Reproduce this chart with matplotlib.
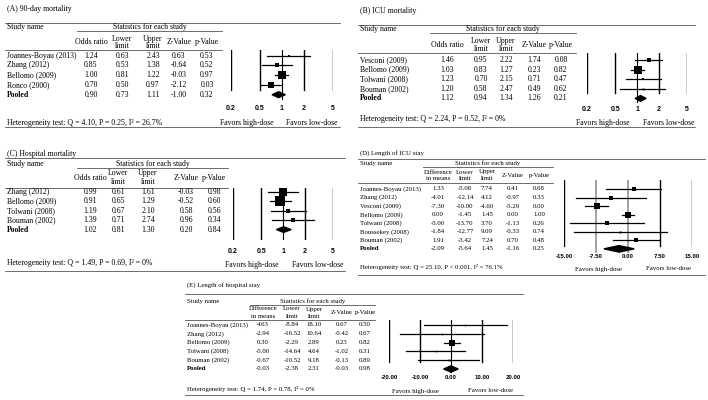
import matplotlib
matplotlib.use('Agg')
import matplotlib.pyplot as plt
import numpy as np

plt.rcParams['font.family'] = ['Liberation Serif', 'DejaVu Serif']

W, H = 708, 400

#######################################################
# Data
#######################################################
studies_a = ['Joannes-Boyau (2013)', 'Zhang (2012)', 'Bellomo (2009)', 'Ronco (2000)', 'Pooled']
est_a = [1.24, 0.85, 1.00, 0.70, 0.90]
lo_a = [0.63, 0.53, 0.81, 0.50, 0.73]
hi_a = [2.43, 1.38, 1.22, 0.97, 1.11]
z_a = [0.63, -0.64, -0.03, -2.12, -1.00]
p_a = [0.53, 0.52, 0.97, 0.03, 0.32]
wt_a = [10, 18, 45, 27]
het_a = 'Heterogeneity test: Q = 4.10, P = 0.25, I\u00b2 = 26.7%'

studies_b = ['Vesconi (2009)', 'Bellomo (2009)', 'Tolwani (2008)', 'Bouman (2002)', 'Pooled']
est_b = [1.46, 1.03, 1.23, 1.20, 1.12]
lo_b = [0.95, 0.83, 0.70, 0.58, 0.94]
hi_b = [2.22, 1.27, 2.15, 2.47, 1.34]
z_b = [1.74, 0.23, 0.71, 0.49, 1.26]
p_b = [0.08, 0.82, 0.47, 0.62, 0.21]
wt_b = [17, 45, 7, 3]
het_b = 'Heterogeneity test: Q = 2.24, P = 0.52, I\u00b2 = 0%'

studies_c = ['Zhang (2012)', 'Bellomo (2009)', 'Tolwani (2008)', 'Bouman (2002)', 'Pooled']
est_c = [0.99, 0.91, 1.19, 1.39, 1.02]
lo_c = [0.61, 0.65, 0.67, 0.71, 0.81]
hi_c = [1.61, 1.29, 2.10, 2.74, 1.30]
z_c = [-0.03, -0.52, 0.58, 0.96, 0.20]
p_c = [0.98, 0.60, 0.56, 0.34, 0.84]
wt_c = [39, 52, 23, 12]
het_c = 'Heterogeneity test: Q = 1.49, P = 0.69, I\u00b2 = 0%'

studies_d = ['Joannes-Boyau (2013)', 'Zhang (2012)', 'Vesconi (2009)', 'Bellomo (2009)',
             'Tolwani (2008)', 'Boussekey (2008)', 'Bouman (2002)', 'Pooled']
est_d = [1.33, -4.01, -7.30, 0.00, -5.00, -1.84, 1.91, -2.09]
lo_d = [-5.08, -12.14, -10.00, -1.45, -13.70, -12.77, -3.42, -5.64]
hi_d = [7.74, 4.12, -4.60, 1.45, 3.70, 9.09, 7.24, 1.45]
z_d = [0.41, -0.97, -5.29, 0.00, -1.13, -0.33, 0.70, -1.16]
p_d = [0.68, 0.33, 0.00, 1.00, 0.26, 0.74, 0.48, 0.25]
wt_d = [12, 12, 34, 28, 12, 3, 15]
het_d = 'Heterogeneity test: Q = 25.10, P < 0.001, I\u00b2 = 76.1%'

studies_e = ['Joannes-Boyau (2013)', 'Zhang (2012)', 'Bellomo (2009)', 'Tolwani (2008)',
             'Bouman (2002)', 'Pooled']
est_e = [4.63, -2.94, 0.30, -5.00, -0.67, -0.03]
lo_e = [-8.84, -16.52, -2.29, -14.64, -10.52, -2.38]
hi_e = [18.10, 10.64, 2.89, 4.64, 9.18, 2.31]
z_e = [0.67, -0.42, 0.23, -1.02, -0.13, -0.03]
p_e = [0.50, 0.67, 0.82, 0.31, 0.89, 0.98]
wt_e = [1, 1, 35, 1, 2]
het_e = 'Heterogeneity test: Q = 1.74, P = 0.78, I\u00b2 = 0%'

ticks_ratio = [0.2, 0.5, 1, 2, 5]
ticklab_ratio = ['0.2', '0.5', '1', '2', '5']
ticks_d = [-15, -7.5, 0, 7.5, 15]
ticklab_d = ['-15.00', '-7.50', '0.00', '7.50', '15.00']
ticks_e = [-20, -10, 0, 10, 20]
ticklab_e = ['-20.00', '-10.00', '0.00', '10.00', '20.00']

LINE = '#555555'


#######################################################
# Drawing
#######################################################
def draw_panel(fig, ov, title, studies, est, lo, hi, z, p, wt, het, L):
    x0 = L['x0']
    fs = L['fs']
    ov.text(x0 + 2, L['y_title'], title, fontsize=fs, va='center')
    ov.plot([x0, L['x1']], [L['y_top'], L['y_top']], color=LINE, lw=0.6)
    ov.text(x0 + 2, L['y_stat'], 'Study name', fontsize=fs, va='center')
    sx0, sx1 = L['stat']
    ov.text((sx0 + sx1) / 2, L['y_stat'], 'Statistics for each study', fontsize=fs,
            va='center', ha='center')
    ov.plot([sx0, sx1], [L['y_stat'] + 3.8, L['y_stat'] + 3.8], color=LINE, lw=0.6)
    ov.plot([x0, sx1], [L['y_hline'], L['y_hline']], color=LINE, lw=0.6)
    ym = (L['y_h1'] + L['y_h2']) / 2
    heads = [L['first'], ('Lower', 'limit'), ('Upper', 'limit'), 'Z-Value', 'p-Value']
    for cx, hd in zip(L['cols'], heads):
        if isinstance(hd, tuple):
            ov.text(cx, L['y_h1'], hd[0], fontsize=fs, ha='center', va='center')
            ov.text(cx, L['y_h2'], hd[1], fontsize=fs, ha='center', va='center')
        else:
            ov.text(cx, ym, hd, fontsize=fs, ha='center', va='center')

    n = len(studies)
    for i in range(n):
        y = L['row0'] + i * L['dy']
        bold = 'bold' if studies[i] == 'Pooled' else 'normal'
        ov.text(x0 + 2, y, studies[i], fontsize=fs, va='center', fontweight=bold)
        for cx, v in zip(L['cols'], [est[i], lo[i], hi[i], z[i], p[i]]):
            ov.text(cx, y, '%.2f' % v, fontsize=fs, ha='center', va='center')

    ov.text(x0 + 2, L['y_het'], het, fontsize=fs, va='center')
    ov.plot([x0, L['x1']], [L['y_bot'], L['y_bot']], color=LINE, lw=0.6)
    for fx, lab in zip(L['fav'], ['Favors high-dose', 'Favors low-dose']):
        ov.text(fx, L['y_fav'], lab, fontsize=fs, ha='center', va='center')

    # forest plot axes
    fx0, fx1, fy0, fy1 = L['forest']
    ax = fig.add_axes([fx0 / W, 1 - fy1 / H, (fx1 - fx0) / W, (fy1 - fy0) / H])
    if L['log']:
        ax.set_xscale('log')
    ticks = L['ticks']
    ax.set_xlim(ticks[0], ticks[-1])
    ax.set_ylim((fy1 - L['row0']) / L['dy'], (fy0 - L['row0']) / L['dy'])
    for t in ticks:
        if t == L['ref']:
            ax.axvline(t, color='black', lw=0.8, zorder=1)
        elif t in L.get('gray_at', []):
            ax.axvline(t, color='#8a8a8a', lw=1.1, zorder=1)
        else:
            ax.axvline(t, color='black', lw=1.0, ymin=L['vmin'], zorder=1)
    for i in range(n - 1):
        ax.plot([lo[i], hi[i]], [i, i], color='black', lw=0.9, zorder=2)
        side = 1.5 + 0.15 * wt[i]
        ax.plot(est[i], i, marker='s', ms=side / 1.389, color='black', mew=0, zorder=3)
    k = n - 1
    hd = L['dh']
    ax.fill([lo[k], est[k], hi[k], est[k]], [k, k - hd, k, k + hd], color='black', zorder=3)
    ax.set_xticks(ticks)
    ax.set_xticklabels(L['ticklab'], family='Liberation Sans', fontweight='bold', fontsize=L['tfs'])
    ax.minorticks_off()
    ax.tick_params(axis='x', length=0, pad=(L['y_tick'] - fy1 - 3) * 0.72)
    ax.set_yticks([])
    for s in ax.spines.values():
        s.set_visible(False)
    ax.patch.set_alpha(0)


fig = plt.figure(figsize=(W / 100, H / 100), dpi=100)
ov = fig.add_axes([0, 0, 1, 1])
ov.set_xlim(0, W)
ov.set_ylim(H, 0)
ov.axis('off')

lay_a = dict(fs=5.6, tfs=5.0, x0=5, x1=340, y_title=9, y_top=23, y_stat=27, stat=(77, 222),
             y_hline=50, y_h1=39, y_h2=46, first='Odds ratio', cols=[91, 122, 153, 179, 207],
             row0=55.5, dy=9.8, forest=(231, 333, 50, 100), log=True, ticks=ticks_ratio,
             ticklab=ticklab_ratio, ref=1, vmin=0.2, dh=0.3, y_tick=108, fav=(247, 312),
             y_fav=123, y_het=123, y_bot=127)
lay_b = dict(fs=5.6, tfs=5.0, x0=358, x1=695, y_title=11, y_top=25, y_stat=29, stat=(430, 576),
             y_hline=53, y_h1=41, y_h2=49, first='Odds ratio', cols=[447, 481, 506, 534, 561],
             row0=60, dy=9.6, forest=(587, 687, 53, 103), log=True, ticks=ticks_ratio,
             ticklab=ticklab_ratio, ref=1, vmin=0.2, dh=0.3, y_tick=109, fav=(603, 669),
             y_fav=123, y_het=119, y_bot=127)
lay_c = dict(fs=5.6, tfs=5.0, x0=5, x1=345, y_title=154, y_top=158, y_stat=164, stat=(77, 228),
             y_hline=188, y_h1=173, y_h2=182, first='Odds ratio', cols=[90, 118, 148, 186, 214],
             row0=192, dy=9.4, forest=(233, 333, 188, 240), log=True, ticks=ticks_ratio,
             ticklab=ticklab_ratio, ref=1, vmin=0.0, dh=0.3, y_tick=251, fav=(252, 318),
             y_fav=265, y_het=263, y_bot=271)
lay_d = dict(fs=4.9, tfs=4.4, x0=358, x1=705, y_title=153, y_top=159, y_stat=163, stat=(423, 553),
             y_hline=183, y_h1=172, y_h2=179, first=('Difference', 'in means'),
             cols=[438, 465, 487, 513, 539],
             row0=189, dy=8.55, forest=(564, 692, 180, 253), log=False, ticks=ticks_d,
             ticklab=ticklab_d, ref=None, gray_at=[-7.5, 0], vmin=0.1, dh=0.38, y_tick=257,
             fav=(598, 668), y_fav=269, y_het=267, y_bot=275)
lay_e = dict(fs=4.9, tfs=4.4, x0=185, x1=523, y_title=285, y_top=294, y_stat=301, stat=(250, 375),
             y_hline=320, y_h1=309, y_h2=316, first=('Difference', 'in means'),
             cols=[263, 292, 314, 342, 365],
             row0=325, dy=8.8, forest=(389, 513, 320, 373), log=False, ticks=ticks_e,
             ticklab=ticklab_e, ref=0, vmin=0.2, dh=0.35, y_tick=378, fav=(415, 490),
             y_fav=391, y_het=389, y_bot=395)

draw_panel(fig, ov, '(A) 90-day mortality', studies_a, est_a, lo_a, hi_a, z_a, p_a, wt_a, het_a, lay_a)
draw_panel(fig, ov, '(B) ICU mortality', studies_b, est_b, lo_b, hi_b, z_b, p_b, wt_b, het_b, lay_b)
draw_panel(fig, ov, '(C) Hospital mortality', studies_c, est_c, lo_c, hi_c, z_c, p_c, wt_c, het_c, lay_c)
draw_panel(fig, ov, '(D) Length of ICU stay', studies_d, est_d, lo_d, hi_d, z_d, p_d, wt_d, het_d, lay_d)
draw_panel(fig, ov, '(E) Length of hospital stay', studies_e, est_e, lo_e, hi_e, z_e, p_e, wt_e, het_e, lay_e)

plt.savefig('out.png', dpi=100)
plt.close()
